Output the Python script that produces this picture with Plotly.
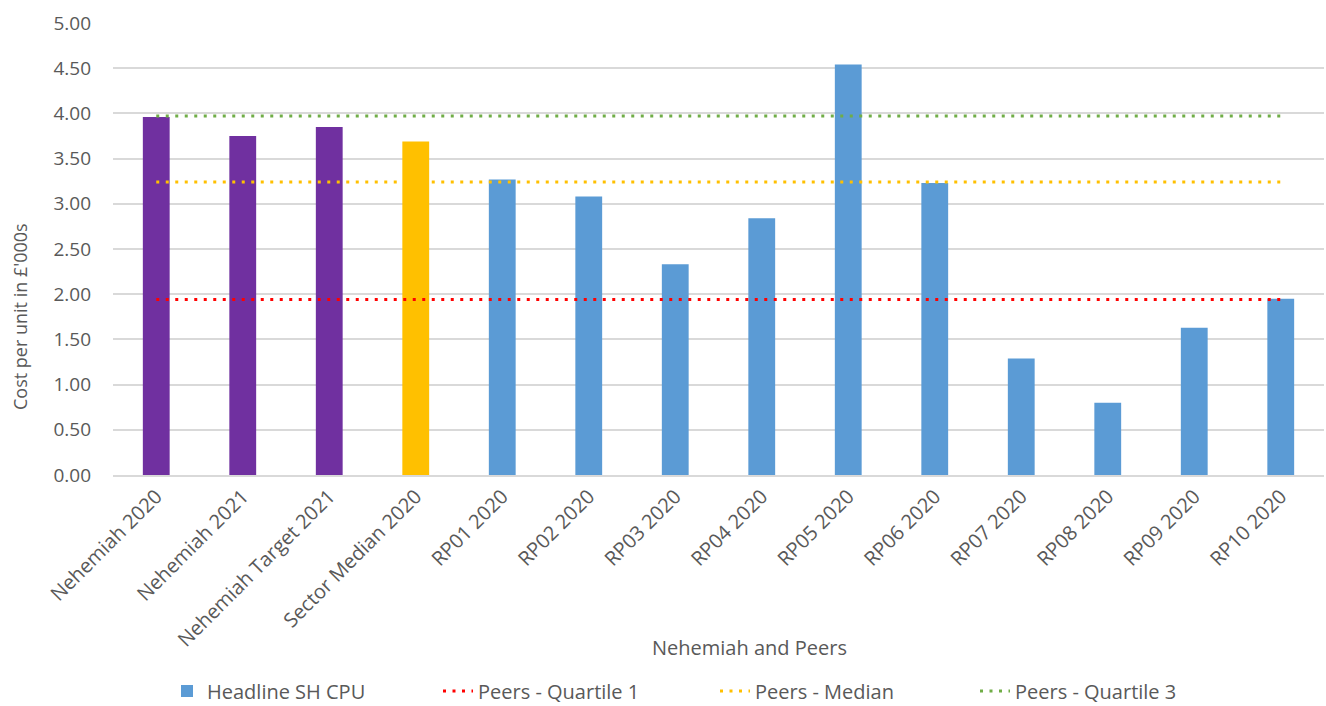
import plotly.graph_objects as go

categories = ["Nehemiah 2020", "Nehemiah 2021", "Nehemiah Target 2021", "Sector Median 2020",
              "RP01 2020", "RP02 2020", "RP03 2020", "RP04 2020", "RP05 2020", "RP06 2020",
              "RP07 2020", "RP08 2020", "RP09 2020", "RP10 2020"]
cpu_values = [3.96, 3.75, 3.85, 3.69, 3.27, 3.08, 2.33, 2.84, 4.54, 3.23, 1.29, 0.80, 1.63, 1.95]
groups = ["Nehemiah", "Nehemiah", "Nehemiah", "Sector",
          "Peer", "Peer", "Peer", "Peer", "Peer", "Peer", "Peer", "Peer", "Peer", "Peer"]
peers_q1 = 1.94
peers_median = 3.24
peers_q3 = 3.97
y_ticks = [0, 0.5, 1, 1.5, 2, 2.5, 3, 3.5, 4, 4.5, 5]

FONT = "Open Sans"
GREY = "#595959"
group_colors = {"Nehemiah": "#7030A0", "Sector": "#FFC000", "Peer": "#5B9BD5"}

L, T, R, B = 113, 23, 2, 231
W, H = 1326, 706
pw = W - L - R
ph = H - T - B

def px_x(px):
    return (px - L) / pw

def px_y(py):
    return (H - B - py) / ph

fig = go.Figure()

# Bars: split per group so the legend shows the peer (blue) colour
for g in ["Nehemiah", "Sector", "Peer"]:
    xs = [c for c, gg in zip(categories, groups) if gg == g]
    ys = [v for v, gg in zip(cpu_values, groups) if gg == g]
    fig.add_trace(go.Bar(
        x=xs, y=ys, name="Headline SH CPU",
        marker=dict(color=group_colors[g], line=dict(width=0)),
        showlegend=(g == "Peer"), legend="legend",
        hoverinfo="x+y",
    ))

dash = "3px,6.5px"
lines = [
    ("Peers - Quartile 1", peers_q1, "#FF0000", "legend2"),
    ("Peers - Median", peers_median, "#FFC000", "legend3"),
    ("Peers - Quartile 3", peers_q3, "#70AD47", "legend4"),
]
for name, val, col, lg in lines:
    fig.add_trace(go.Scatter(
        x=categories, y=[val] * len(categories), mode="lines", name=name,
        line=dict(color=col, width=3, dash=dash),
        legend=lg,
    ))

legend_font = dict(family=FONT, size=20, color=GREY)
text_starts = {"legend": 209, "legend2": 480, "legend3": 757, "legend4": 1017}
legend_y = px_y(691)
legends = {}
for lg, tx in text_starts.items():
    legends[lg] = dict(
        x=px_x(tx - 42), y=legend_y, xanchor="left", yanchor="middle",
        orientation="h", font=legend_font, bgcolor="rgba(0,0,0,0)",
        borderwidth=0, itemwidth=30,
    )

fig.update_layout(
    width=W, height=H,
    margin=dict(l=L, r=R, t=T, b=B, autoexpand=False),
    paper_bgcolor="white", plot_bgcolor="white",
    barmode="overlay", bargap=0.69,
    font=dict(family=FONT, color=GREY),
    showlegend=True,
    legend=legends["legend"], legend2=legends["legend2"],
    legend3=legends["legend3"], legend4=legends["legend4"],
    xaxis=dict(
        type="category", categoryorder="array", categoryarray=categories,
        tickangle=-45, tickfont=dict(family=FONT, size=20, color=GREY),
        showgrid=False, showline=True, linecolor="#D9D9D9", linewidth=1.5,
        ticks="", automargin=False,
    ),
    yaxis=dict(
        range=[0, 5], tickvals=y_ticks, tickformat=".2f",
        tickfont=dict(family=FONT, size=19, color=GREY),
        showgrid=True, gridcolor="#D9D9D9", gridwidth=1.5,
        zeroline=False, showline=False, ticks="",
        ticklabelstandoff=21, automargin=False,
    ),
    annotations=[
        dict(text="Nehemiah and Peers", xref="paper", yref="paper",
             x=px_x(749), y=px_y(647), xanchor="center", yanchor="middle",
             showarrow=False, font=dict(family=FONT, size=20, color=GREY)),
        dict(text="Cost per unit in £'000s", xref="paper", yref="paper",
             x=px_x(20), y=px_y(317), xanchor="center", yanchor="middle",
             textangle=-90, showarrow=False,
             font=dict(family=FONT, size=18, color=GREY)),
    ],
)

fig.write_html("out.html")
